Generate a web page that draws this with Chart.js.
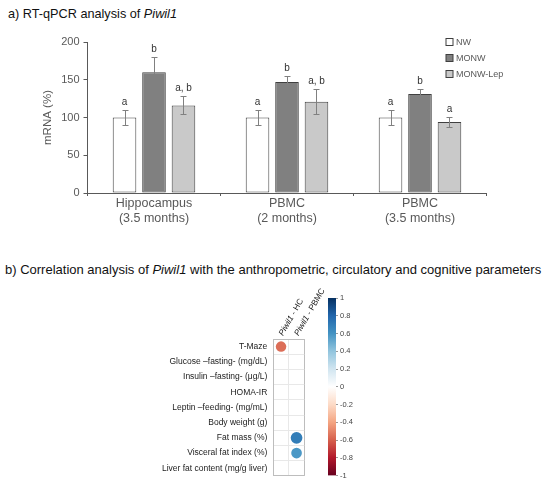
<!DOCTYPE html>
<html>
<head>
<meta charset="utf-8">
<script src="https://cdn.jsdelivr.net/npm/chart.js@4.4.0/dist/chart.umd.min.js"></script>
<style>
  body { margin: 0; background: #fff; width: 546px; height: 482px; position: relative; overflow: hidden;
         font-family: "Liberation Sans", Arial, sans-serif; }
  .title { position: absolute; color: #111; white-space: nowrap; }
  canvas { position: absolute; }
</style>
</head>
<body>
<div class="title" style="left:8px; top:7px; font-size:12.7px">a) RT-qPCR analysis of <i>Piwil1</i></div>
<div class="title" style="left:5px; top:262px; font-size:13px">b) Correlation analysis of <i>Piwil1</i> with the anthropometric, circulatory and cognitive parameters</div>
<canvas id="bars" width="546" height="240" style="left:0; top:0"></canvas>
<canvas id="corr" width="325" height="207" style="left:0; top:280px"></canvas>
<canvas id="cbar" width="50" height="192" style="left:320px; top:290px"></canvas>
<script>
// panel a
const groupLabels = [['Hippocampus', '(3.5 months)'], ['PBMC', '(2 months)'], ['PBMC', '(3.5 months)']];
const nwMean = [100, 100, 100];
const nwErr = [10.5, 10, 10];
const nwSig = ['a', 'a', 'a'];
const monwMean = [160, 147, 131];
const monwErr = [20, 8.5, 7];
const monwSig = ['b', 'b', 'b'];
const lepMean = [116, 121, 94];
const lepErr = [12, 17, 7];
const lepSig = ['a, b', 'a, b', 'a'];
const yTicks = [0, 50, 100, 150, 200];

// panel b
const corrRows = ['T-Maze', 'Glucose –fasting- (mg/dL)', 'Insulin –fasting- (μg/L)', 'HOMA-IR',
  'Leptin –feeding- (mg/mL)', 'Body weight (g)', 'Fat mass (%)', 'Visceral fat index (%)',
  'Liver fat content (mg/g liver)'];
const corrCols = ['Piwil1 - HC', 'Piwil1 - PBMC'];
const corrHC = [-0.56, null, null, null, null, null, null, null, null];
const corrPBMC = [null, null, null, null, null, null, 0.7, 0.58, null];
const legendTicks = [1, 0.8, 0.6, 0.4, 0.2, 0, -0.2, -0.4, -0.6, -0.8, -1];

const family = '"Liberation Sans", Arial, sans-serif';
Chart.defaults.font.family = family;
const grey = '#595959';

// error bars + significance letters
const errPlugin = {
  id: 'errbars',
  afterDatasetsDraw(chart) {
    const { ctx, scales: { y } } = chart;
    ctx.save();
    chart.data.datasets.forEach((ds, di) => {
      chart.getDatasetMeta(di).data.forEach((bar, i) => {
        const x = Math.round(bar.x) + 0.5;
        const top = Math.round(y.getPixelForValue(ds.data[i] + ds.err[i])) + 0.5;
        const bot = Math.round(y.getPixelForValue(ds.data[i] - ds.err[i])) + 0.5;
        ctx.strokeStyle = '#808080';
        ctx.lineWidth = 1;
        ctx.beginPath();
        ctx.moveTo(x, top); ctx.lineTo(x, bot);
        ctx.moveTo(x - 3, top); ctx.lineTo(x + 3, top);
        ctx.moveTo(x - 3, bot); ctx.lineTo(x + 3, bot);
        ctx.stroke();
        ctx.fillStyle = '#333';
        ctx.font = '10px ' + family;
        ctx.textAlign = 'center';
        ctx.textBaseline = 'alphabetic';
        ctx.fillText(ds.sig[i], bar.x, top - 5.5);
      });
    });
    ctx.restore();
  }
};

const boxLegend = {
  id: 'boxLegend',
  afterDraw(chart) {
    const { ctx, chartArea } = chart;
    ctx.save();
    chart.data.datasets.forEach((ds, i) => {
      const x = chartArea.right - 40.5;
      const y = chartArea.top - 3.5 + i * 16;
      ctx.fillStyle = ds.backgroundColor;
      ctx.fillRect(x, y, 7, 7);
      ctx.strokeStyle = '#3f3f3f';
      ctx.lineWidth = 1;
      ctx.strokeRect(x, y, 7, 7);
      ctx.fillStyle = grey;
      ctx.font = '9px ' + family;
      ctx.textBaseline = 'middle';
      ctx.fillText(ds.label, x + 10, y + 4);
    });
    ctx.restore();
  }
};

new Chart(document.getElementById('bars'), {
  type: 'bar',
  data: {
    labels: groupLabels,
    datasets: [
      { label: 'NW', data: nwMean, err: nwErr, sig: nwSig, backgroundColor: '#ffffff' },
      { label: 'MONW', data: monwMean, err: monwErr, sig: monwSig, backgroundColor: '#808080' },
      { label: 'MONW-Lep', data: lepMean, err: lepErr, sig: lepSig, backgroundColor: '#c9c9c9' }
    ]
  },
  options: {
    responsive: false,
    animation: false,
    datasets: { bar: { borderColor: '#404040', borderWidth: 1, borderSkipped: false,
                       categoryPercentage: 0.665, barPercentage: 0.8 } },
    layout: { padding: { left: 37, right: 59.5, top: 42, bottom: 14 } },
    plugins: { legend: { display: false }, tooltip: { enabled: false } },
    scales: {
      x: {
        grid: { drawOnChartArea: false, offset: true, tickLength: 3, color: grey },
        border: { color: grey },
        ticks: { color: grey, font: { size: 12.5 }, padding: 0 }
      },
      y: {
        min: 0, max: 200,
        afterBuildTicks: s => { s.ticks = yTicks.map(v => ({ value: v })); },
        afterFit: s => { s.width = 50.5; },
        grid: { drawOnChartArea: false, tickLength: 4, color: grey },
        border: { color: grey },
        ticks: { color: grey, font: { size: 11 }, padding: 4 },
        title: { display: true, text: 'mRNA (%)', color: grey, font: { size: 11.5 } }
      }
    }
  },
  plugins: [errPlugin, boxLegend]
});

// correlation plot
const palette = ['#67001F', '#B2182B', '#D6604D', '#F4A582', '#FDDBC7', '#FFFFFF',
                 '#D1E5F0', '#92C5DE', '#4393C3', '#2166AC', '#053061'];
function hex(c) { return [1, 3, 5].map(k => parseInt(c.substr(k, 2), 16)); }
function corrColor(v) {
  const t = (v + 1) / 2 * (palette.length - 1);
  const i = Math.min(Math.floor(t), palette.length - 2);
  const f = t - i;
  const a = hex(palette[i]), b = hex(palette[i + 1]);
  return 'rgb(' + a.map((c, k) => Math.round(c + (b[k] - c) * f)).join(',') + ')';
}

const corrPoints = [];
corrRows.forEach((row, i) => {
  [corrHC, corrPBMC].forEach((col, j) => {
    if (col[i] !== null) corrPoints.push({ x: corrCols[j], y: row, v: col[i] });
  });
});

const gridColor = c => (c.index === 0 || c.index === undefined) ? '#bdbdbd' : '#e8e8e8';
const maxRadius = 7;

const colLabels = {
  id: 'colLabels',
  afterDraw(chart) {
    const { ctx, chartArea, scales: { x } } = chart;
    corrCols.forEach((lab, i) => {
      const sp = lab.indexOf(' ');
      ctx.save();
      ctx.translate(x.getPixelForValue(i), chartArea.top - 4);
      ctx.rotate(-Math.PI / 3);
      ctx.fillStyle = '#222';
      ctx.textBaseline = 'middle';
      ctx.font = 'italic 8.3px ' + family;
      ctx.fillText(lab.slice(0, sp), 0, 0);
      const w = ctx.measureText(lab.slice(0, sp)).width;
      ctx.font = '8.3px ' + family;
      ctx.fillText(lab.slice(sp), w, 0);
      ctx.restore();
    });
  }
};

new Chart(document.getElementById('corr'), {
  type: 'bubble',
  data: {
    datasets: [{
      data: corrPoints,
      backgroundColor: c => (c.raw ? corrColor(c.raw.v) : 'transparent'),
      borderWidth: 0,
      radius: c => (c.raw ? Math.sqrt(Math.abs(c.raw.v)) * maxRadius : 0)
    }]
  },
  options: {
    responsive: false,
    animation: false,
    layout: { padding: { left: 0, right: 20.7, top: 59, bottom: 2 } },
    plugins: { legend: { display: false }, tooltip: { enabled: false } },
    scales: {
      x: {
        type: 'category', labels: corrCols, position: 'top', offset: true,
        grid: { offset: true, drawTicks: false, color: gridColor },
        border: { color: '#bdbdbd' },
        ticks: { display: false }
      },
      y: {
        type: 'category', labels: corrRows, offset: true,
        afterFit: s => { s.width = 273.3; },
        grid: { offset: true, drawTicks: false, color: gridColor },
        border: { color: '#bdbdbd' },
        ticks: { color: '#222', font: { size: 8.5 }, padding: 6 }
      }
    }
  },
  plugins: [colLabels]
});

// colour legend
new Chart(document.getElementById('cbar'), {
  type: 'bar',
  data: {
    labels: [''],
    datasets: [{
      data: [[-1, 1]],
      borderWidth: 0,
      barPercentage: 1,
      categoryPercentage: 1,
      backgroundColor: c => {
        const a = c.chart.chartArea;
        if (!a) return null;
        const g = c.chart.ctx.createLinearGradient(0, a.bottom, 0, a.top);
        palette.forEach((col, i) => g.addColorStop(i / (palette.length - 1), col));
        return g;
      }
    }]
  },
  options: {
    responsive: false,
    animation: false,
    layout: { padding: { left: 8, right: 4, top: 8, bottom: 5 } },
    plugins: { legend: { display: false }, tooltip: { enabled: false } },
    scales: {
      x: { display: false },
      y: {
        position: 'right', min: -1, max: 1,
        afterBuildTicks: s => { s.ticks = legendTicks.map(v => ({ value: v })); },
        afterFit: s => { s.width = 30; },
        grid: { drawOnChartArea: false, tickLength: 2, color: '#999' },
        border: { display: false },
        ticks: { color: '#444', font: { size: 7.5 }, padding: 2, callback: v => String(v) }
      }
    }
  }
});
</script>
</body>
</html>
